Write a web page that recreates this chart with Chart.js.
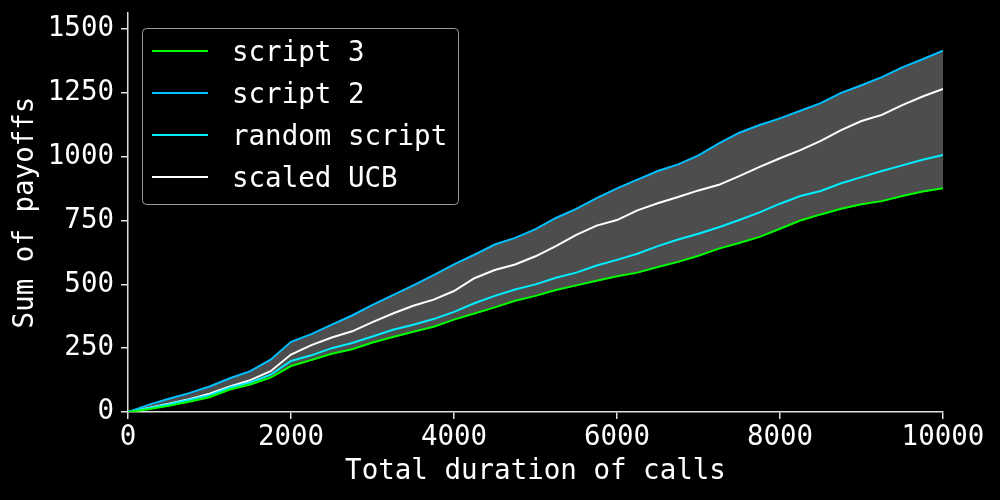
<!DOCTYPE html>
<html>
<head>
<meta charset="utf-8">
<script src="https://cdn.jsdelivr.net/npm/chart.js@4/dist/chart.umd.min.js"></script>
<style>
  body { margin: 0; background: #000; }
  #wrap { width: 1000px; height: 500px; }
</style>
</head>
<body>
<div id="wrap"><canvas id="payoffChart" width="1000" height="500"></canvas></div>
<script>
// total duration of calls (x)
const callDurations = [0, 250, 500, 750, 1000, 1250, 1500, 1750, 2000, 2250, 2500, 2750, 3000, 3250, 3500, 3750, 4000, 4250, 4500, 4750, 5000,
    5250, 5500, 5750, 6000, 6250, 6500, 6750, 7000, 7250, 7500, 7750, 8000, 8250, 8500, 8750, 9000, 9250, 9500, 9750, 10000];

// cumulative payoffs per policy
const script3 = [0, 11, 24, 40, 58, 88, 108, 135, 180, 204, 228, 246, 272, 294, 314, 334, 362, 386, 410, 436, 455,
    478, 496, 514, 532, 546, 568, 588, 612, 640, 662, 686, 718, 750, 774, 796, 814, 826, 846, 864, 877];
const script2 = [0, 28, 52, 74, 100, 132, 160, 205, 275, 305, 342, 378, 420, 458, 496, 536, 578, 616, 656, 682, 716,
    760, 796, 838, 876, 910, 944, 970, 1005, 1052, 1094, 1124, 1150, 1180, 1210, 1250, 1280, 1312, 1350, 1382, 1415];
const randomScript = [0, 15, 30, 48, 66, 96, 116, 146, 200, 222, 250, 270, 296, 322, 342, 364, 392, 426, 455, 480, 500,
    526, 546, 574, 596, 620, 650, 676, 698, 724, 752, 782, 816, 846, 866, 896, 920, 944, 966, 988, 1007];
const scaledUCB = [0, 16, 32, 50, 72, 100, 125, 160, 225, 262, 292, 316, 352, 386, 416, 440, 474, 524, 556, 578, 610,
    650, 694, 730, 752, 790, 818, 842, 868, 890, 924, 960, 994, 1026, 1062, 1104, 1140, 1164, 1202, 1236, 1266];

const seriesLabels = ['script 3', 'script 2', 'random script', 'scaled UCB'];
const seriesColors = ['#00ff00', '#00bfff', '#00eeff', '#ffffff'];
const xTicks = [0, 2000, 4000, 6000, 8000, 10000];
const yTicks = [0, 250, 500, 750, 1000, 1250, 1500];

const FONT = "'DejaVu Sans Mono', monospace";
const AXIS = '#e0e0e0';

Chart.defaults.font.family = FONT;
Chart.defaults.font.size = 27.5;
Chart.defaults.color = '#ffffff';

const toPoints = ys => ys.map((y, i) => ({ x: callDurations[i], y: y }));

// legend box drawn inside the plot, like matplotlib's upper-left legend
const boxLegend = {
    id: 'boxLegend',
    afterDraw(chart) {
        const ctx = chart.ctx;
        ctx.save();
        ctx.beginPath();
        ctx.roundRect(142.5, 28.5, 316, 176, 4);
        ctx.fillStyle = '#000000';
        ctx.fill();
        ctx.strokeStyle = '#9a9a9a';
        ctx.lineWidth = 1;
        ctx.stroke();
        ctx.font = '27.5px ' + FONT;
        ctx.textBaseline = 'alphabetic';
        ctx.textAlign = 'left';
        chart.data.datasets.forEach((ds, i) => {
            const y = 51 + i * 42;
            ctx.strokeStyle = ds.borderColor;
            ctx.lineWidth = 2;
            ctx.beginPath();
            ctx.moveTo(152, y);
            ctx.lineTo(208, y);
            ctx.stroke();
            ctx.fillStyle = '#ffffff';
            ctx.fillText(ds.label, 232, y + 10);
        });
        ctx.restore();
    }
};

const ctx = document.getElementById('payoffChart').getContext('2d');
new Chart(ctx, {
    type: 'line',
    data: {
        datasets: [
            { label: seriesLabels[0], data: toPoints(script3), borderColor: seriesColors[0], fill: false },
            { label: seriesLabels[1], data: toPoints(script2), borderColor: seriesColors[1], fill: 0, backgroundColor: '#4d4d4d' },
            { label: seriesLabels[2], data: toPoints(randomScript), borderColor: seriesColors[2], fill: false },
            { label: seriesLabels[3], data: toPoints(scaledUCB), borderColor: seriesColors[3], fill: false }
        ]
    },
    options: {
        responsive: false,
        animation: false,
        layout: { padding: { top: 13, right: 57, left: 0, bottom: 0 } },
        elements: {
            point: { radius: 0 },
            line: { borderWidth: 2, tension: 0 }
        },
        plugins: {
            legend: { display: false },
            tooltip: { enabled: false },
            filler: { drawTime: 'beforeDatasetsDraw' }
        },
        scales: {
            x: {
                type: 'linear',
                min: 0,
                max: 10000,
                afterBuildTicks: s => { s.ticks = xTicks.map(v => ({ value: v })); },
                afterFit: s => { s.height = 88; },
                ticks: { color: '#ffffff', padding: 2, maxRotation: 0, callback: v => String(v) },
                grid: { drawOnChartArea: false, drawTicks: true, tickLength: 7, color: AXIS, lineWidth: 1.5 },
                border: { display: true, color: AXIS, width: 1.5 },
                title: { display: true, text: 'Total duration of calls', color: '#ffffff', padding: { top: 0, bottom: 11.5 } }
            },
            y: {
                type: 'linear',
                min: 0,
                max: 1563,
                afterBuildTicks: s => { s.ticks = yTicks.map(v => ({ value: v })); },
                afterFit: s => { s.width = 128; s.paddingTop = 0; s.paddingBottom = 0; },
                ticks: { color: '#ffffff', padding: 7, callback: v => String(v) },
                grid: { drawOnChartArea: false, drawTicks: true, tickLength: 7, color: AXIS, lineWidth: 1.5 },
                border: { display: true, color: AXIS, width: 1.5 },
                title: { display: true, text: 'Sum of payoffs', color: '#ffffff', padding: { top: 9, bottom: 0 } }
            }
        }
    },
    plugins: [boxLegend]
});
</script>
</body>
</html>
